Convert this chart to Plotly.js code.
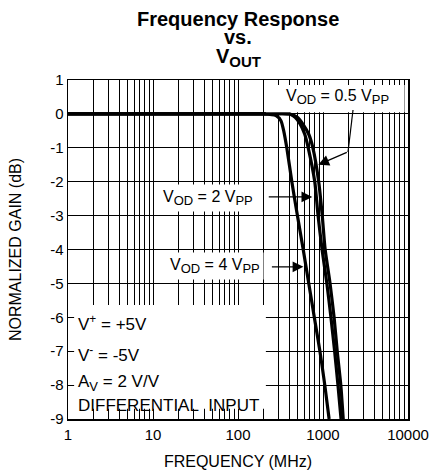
<!DOCTYPE html>
<html>
<head>
<meta charset="utf-8">
<script src="https://cdn.plot.ly/plotly-3.0.1.min.js"></script>
<style>html,body{margin:0;padding:0;background:#fff;}#chart{width:432px;height:472px;}</style>
</head>
<body>
<div id="chart"></div>
<script>
// Frequency (MHz) and normalized gain (dB)
var freq_4vpp = [1, 2, 5, 10, 20, 50, 100, 200, 280, 320, 345, 375, 430, 500, 585, 680, 790, 920, 1050, 1180];
var gain_4vpp = [0, 0, 0, 0, 0, 0, 0, 0, -0.05, -0.2, -0.5, -1, -2, -3, -4, -5, -6, -7, -8, -9];

var freq_2vpp = [1, 2, 5, 10, 20, 50, 100, 200, 400, 470, 540, 610, 670, 800, 875, 975, 1110, 1240, 1370, 1500, 1630];
var gain_2vpp = [0, 0, 0, 0, 0, 0, 0, 0, 0, -0.1, -0.3, -0.6, -1, -2, -3, -4, -5, -6, -7, -8, -9];

var freq_05vpp = [1, 2, 5, 10, 20, 50, 100, 200, 400, 500, 580, 680, 760, 890, 980, 1060, 1210, 1350, 1470, 1620, 1730];
var gain_05vpp = [0, 0, 0, 0, 0, 0, 0, 0, 0, -0.1, -0.3, -0.6, -1, -2, -3, -4, -5, -6, -7, -8, -9];

var xDecades = [1, 10, 100, 1000, 10000];
var xDecadeLabels = ["1", "10", "100", "1000", "10000"];
var yTicks = [1, 0, -1, -2, -3, -4, -5, -6, -7, -8, -9];

var titleLines = ["<b>Frequency Response</b>", "<b>vs.</b>", "<b>V<sub><span style='font-size:15px'>OUT</span></sub></b>"];

// build tick list: every 1..9 within decades, labels only on decades
var xTickVals = [], xTickText = [];
for (var d = 0; d < xDecades.length; d++) {
  var base = xDecades[d];
  var maxM = (d === xDecades.length - 1) ? 1 : 9;
  for (var m = 1; m <= maxM; m++) {
    xTickVals.push(base * m);
    xTickText.push(m === 1 ? xDecadeLabels[d] : "");
  }
}

var FONT = "Liberation Sans, Arial, sans-serif";
var lineStyle = {color: "#000", width: 3.2, shape: "spline", smoothing: 0.6};

var traces = [
  {x: freq_4vpp, y: gain_4vpp, mode: "lines", line: lineStyle, name: "4 Vpp", hoverinfo: "skip"},
  {x: freq_2vpp, y: gain_2vpp, mode: "lines", line: lineStyle, name: "2 Vpp", hoverinfo: "skip"},
  {x: freq_05vpp, y: gain_05vpp, mode: "lines", line: lineStyle, name: "0.5 Vpp", hoverinfo: "skip"}
];

function L(v) { return Math.log10(v); }
function PX(px) { return (px - 68) / 340; }
function PY(py) { return (419 - py) / 339; }
function SUB(s) { return "<sub><span style='font-size:13px'>" + s + "</span></sub>"; }

var annFont = {family: FONT, size: 16, color: "#000"};
var condFont = {family: FONT, size: 17, color: "#000"};
var titleFont = {family: FONT, size: 20, color: "#000"};

var layout = {
  width: 432, height: 472,
  margin: {l: 68, r: 24, t: 80, b: 53},
  paper_bgcolor: "#fff", plot_bgcolor: "#fff",
  showlegend: false,
  font: {family: FONT, color: "#000"},
  xaxis: {
    type: "log", range: [0, 4],
    tickvals: xTickVals, ticktext: xTickText,
    ticks: "inside", ticklen: 8, tickcolor: "#000", tickwidth: 1,
    showline: true, linecolor: "#000", linewidth: 1.5, mirror: "ticks",
    showgrid: true, gridcolor: "#000", gridwidth: 1,
    zeroline: false, ticklabelstandoff: 1,
    tickfont: {family: FONT, size: 15, color: "#000"},
    title: {text: "FREQUENCY (MHz)", font: {family: FONT, size: 16, color: "#000"}, standoff: 14}
  },
  yaxis: {
    range: [-9, 1], tickvals: yTicks, ticktext: yTicks.map(String),
    ticks: "inside", ticklen: 6, tickcolor: "#000", tickwidth: 1,
    showline: true, linecolor: "#000", linewidth: 1.5, mirror: "ticks",
    showgrid: true, gridcolor: "#000", gridwidth: 1,
    zeroline: false, ticklabelstandoff: 0,
    tickfont: {family: FONT, size: 15, color: "#000"},
    title: {text: "NORMALIZED GAIN (dB)", font: {family: FONT, size: 16, color: "#000"}, standoff: 24}
  },
  shapes: [
    // white box bottom-left
    {type: "rect", xref: "paper", yref: "paper", x0: 0.018, x1: 0.582, y0: 0.03, y1: 0.336,
     fillcolor: "#fff", line: {width: 0}, layer: "above"},
    // white box top-right
    {type: "rect", xref: "paper", yref: "paper", x0: 0.582, x1: 0.99, y0: 0.905, y1: 0.985,
     fillcolor: "#fff", line: {width: 0}, layer: "above"},
    // leader for 0.5 Vpp label
    {type: "line", xref: "paper", yref: "paper", x0: PX(353), y0: PY(110),
     x1: PX(348), y1: PY(152), line: {color: "#000", width: 1.2}, layer: "above"}
  ],
  annotations: [
    // title lines
    {xref: "paper", yref: "paper", x: 0.5, y: PY(19), xanchor: "center", yanchor: "middle",
     text: titleLines[0], showarrow: false, font: titleFont},
    {xref: "paper", yref: "paper", x: 0.5, y: PY(37), xanchor: "center", yanchor: "middle",
     text: titleLines[1], showarrow: false, font: titleFont},
    {xref: "paper", yref: "paper", x: 0.5, y: PY(57), xanchor: "center", yanchor: "middle",
     text: titleLines[2], showarrow: false, font: titleFont},
    // curve labels
    {xref: "paper", yref: "paper", x: PX(337), y: PY(97), xanchor: "center", yanchor: "middle",
     text: "V" + SUB("OD") + " = 0.5 V" + SUB("PP"), showarrow: false, font: annFont},
    {xref: "paper", yref: "paper", x: PX(208), y: PY(198), xanchor: "center", yanchor: "middle",
     text: "V" + SUB("OD") + " = 2 V" + SUB("PP"), showarrow: false, font: annFont, bgcolor: "#fff", borderpad: 3},
    {xref: "paper", yref: "paper", x: PX(215), y: PY(266), xanchor: "center", yanchor: "middle",
     text: "V" + SUB("OD") + " = 4 V" + SUB("PP"), showarrow: false, font: annFont, bgcolor: "#fff", borderpad: 3},
    // arrows
    {xref: "x", yref: "y", x: L(748), y: -2.45, ax: -45, ay: 0, text: "", showarrow: true,
     arrowhead: 2, arrowsize: 1.8, arrowwidth: 1.2, arrowcolor: "#000"},
    {xref: "x", yref: "y", x: L(588), y: -4.51, ax: -33, ay: 0, text: "", showarrow: true,
     arrowhead: 2, arrowsize: 1.8, arrowwidth: 1.2, arrowcolor: "#000"},
    {xref: "x", yref: "y", x: L(880), y: -1.5, ax: 30, ay: -13, text: "", showarrow: true,
     arrowhead: 2, arrowsize: 1.8, arrowwidth: 1.2, arrowcolor: "#000"},
    // conditions box
    {xref: "paper", yref: "paper", x: PX(76), y: PY(323), xanchor: "left", yanchor: "middle",
     text: "V<sup>+</sup> = +5V", showarrow: false, font: condFont},
    {xref: "paper", yref: "paper", x: PX(76), y: PY(354), xanchor: "left", yanchor: "middle",
     text: "V<sup>-</sup> = -5V", showarrow: false, font: condFont},
    {xref: "paper", yref: "paper", x: PX(76), y: PY(383), xanchor: "left", yanchor: "middle",
     text: "A" + SUB("V") + " = 2 V/V", showarrow: false, font: condFont},
    {xref: "paper", yref: "paper", x: PX(76), y: PY(405), xanchor: "left", yanchor: "middle",
     text: "DIFFERENTIAL&nbsp;&nbsp;INPUT", showarrow: false, font: condFont}
  ]
};

Plotly.newPlot("chart", traces, layout, {staticPlot: true, displayModeBar: false});
</script>
</body>
</html>
